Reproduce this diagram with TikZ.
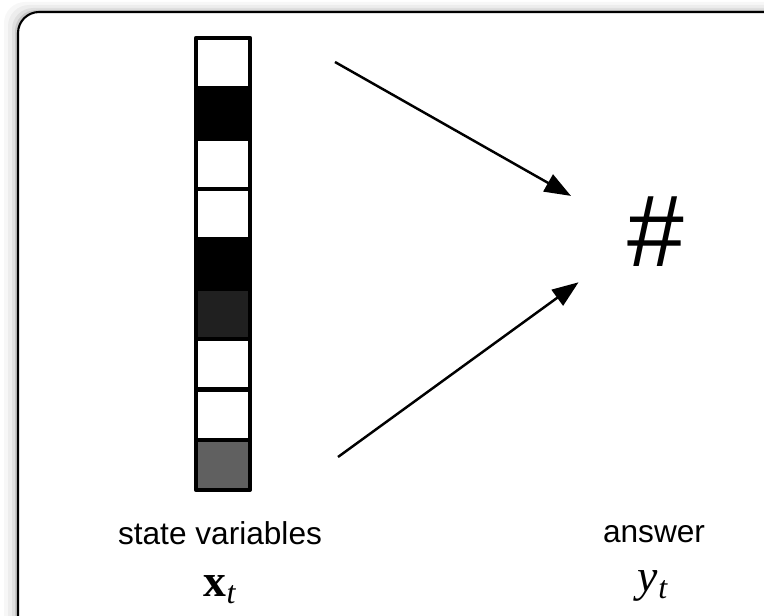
\documentclass[tikz,border=0pt]{standalone}
\usepackage{fontspec}
\setmainfont{Liberation Serif}
\setsansfont{Liberation Sans}
\usepackage{tikz}
\usetikzlibrary{arrows.meta, shapes.geometric}

\definecolor{darkcell}{RGB}{32,32,32}
\definecolor{midcell}{RGB}{96,96,96}

\tikzset{
  cellbox/.style={draw=black, line width=2.4pt, line join=round},
  feed/.style={-{Triangle[length=15pt,width=11pt]}, line width=1.4pt},
  caption/.style={font=\sffamily\fontsize{18}{22}\selectfont, anchor=base},
  symbol/.style={font=\fontsize{26}{30}\selectfont, anchor=base},
}

\begin{document}
\begin{tikzpicture}[x=0.2mm, y=-0.2mm]
    \useasboundingbox (0,0) rectangle (764,616);
    \clip (0,0) rectangle (764,616);
    \def\h{50.22}
    % soft shadow and frame
    \fill[black, opacity=0.03, rounded corners=12] (4,2) rectangle (790,650);
    \fill[black, opacity=0.04, rounded corners=12] (8,5) rectangle (790,650);
    \fill[black, opacity=0.06, rounded corners=12] (12,8) rectangle (790,650);
    \fill[black, opacity=0.10, rounded corners=12] (15,10) rectangle (790,650);
    \draw[line width=1.2pt, fill=white, rounded corners=12] (18,12) rectangle (790,650);
    % state column
    \draw[cellbox, fill=white]    (196,38)      rectangle (250,38+\h);
    \draw[cellbox, fill=black]    (196,38+\h)   rectangle (250,38+2*\h);
    \draw[cellbox, fill=white]    (196,38+2*\h) rectangle (250,38+3*\h);
    \draw[cellbox, fill=white]    (196,38+3*\h) rectangle (250,38+4*\h);
    \draw[cellbox, fill=black]    (196,38+4*\h) rectangle (250,38+5*\h);
    \draw[cellbox, fill=darkcell] (196,38+5*\h) rectangle (250,38+6*\h);
    \draw[cellbox, fill=white]    (196,38+6*\h) rectangle (250,38+7*\h);
    \draw[cellbox, fill=white]    (196,38+7*\h) rectangle (250,38+8*\h);
    \draw[cellbox, fill=midcell]  (196,38+8*\h) rectangle (250,38+9*\h);
    \node[caption] (statelbl) at (220,545) {state variables};
    \node[symbol] (xt) at (220,597) {\bfseries x\textsubscript{\normalfont\itshape t}};
    % answer
    \node[circle, inner sep=0pt, minimum size=36.8mm, font=\sffamily\fontsize{58}{60}\selectfont] (hash) at (656,232) {\#};
    \node[caption] (answerlbl) at (654,543) {answer};
    \node[symbol] (yt) at (653,592) {\itshape y\textsubscript{t}};
    \coordinate (topsrc) at (335,62);
    \coordinate (botsrc) at (338,457);
    \draw[feed] (topsrc) -- (hash.157);
    \draw[feed] (botsrc) -- (hash.213);
\end{tikzpicture}
\end{document}
